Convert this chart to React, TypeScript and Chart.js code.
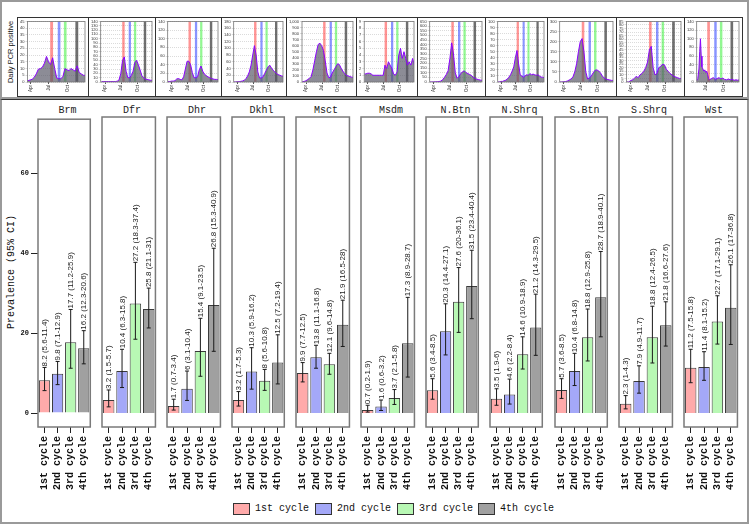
import React, { useEffect, useRef } from "react";
import { Chart, registerables } from "chart.js";
Chart.register(...registerables);

// ---------- bottom panels: prevalence by region and cycle ----------
const REGIONS = ["Brm", "Dfr", "Dhr", "Dkhl", "Msct", "Msdm", "N.Btn", "N.Shrq", "S.Btn", "S.Shrq", "Wst"];
const CYCLES = ["1st cycle", "2nd cycle", "3rd cycle", "4th cycle"];
const CYCLE_COLORS = ["#ffaaaa", "#a4a8f8", "#b8f8b4", "#a0a0a0"];

const EST_C1 = [8.2, 3.2, 1.7, 3.2, 9.9, 0.7, 5.6, 3.5, 5.7, 2.3, 11.2];
const LO_C1 = [5.6, 1.5, 0.7, 1.7, 7.7, 0.2, 3.4, 1.9, 3.6, 1, 7.5];
const HI_C1 = [11.4, 5.7, 3.4, 5.3, 12.5, 1.9, 8.5, 6, 8.5, 4.3, 15.8];
const EST_C2 = [9.8, 10.4, 6, 10.3, 13.8, 1.6, 20.3, 4.6, 10.4, 7.9, 11.4];
const LO_C2 = [7.1, 6.3, 3.1, 5.9, 11.1, 0.6, 14.4, 2.2, 6.8, 4.9, 8.1];
const HI_C2 = [12.9, 15.8, 10.4, 16.2, 16.8, 3.2, 27.1, 8.4, 14.8, 11.7, 15.2];
const EST_C3 = [17.7, 27.2, 15.4, 8, 12.1, 3.7, 27.6, 14.6, 18.8, 18.8, 22.7];
const LO_C3 = [11.2, 18.3, 9.1, 5.6, 9.6, 2.1, 20, 10.9, 12.9, 12.4, 17.1];
const HI_C3 = [25.9, 37.4, 23.5, 10.8, 14.8, 5.8, 36.1, 18.9, 25.8, 26.5, 29.1];
const EST_C4 = [16.2, 25.8, 26.8, 12.5, 21.9, 17.3, 31.5, 21.2, 28.7, 21.8, 26.1];
const LO_C4 = [12.3, 21.1, 15.3, 7.2, 16.5, 8.9, 23.4, 14.3, 18.9, 16.6, 17];
const HI_C4 = [20.6, 31, 40.9, 19.4, 28, 28.7, 40.4, 29.5, 40.1, 27.6, 36.8];

const PREV_Y_TICKS = [0, 20, 40, 60];
const PREV_Y_MIN = -3.5;
const PREV_Y_MAX = 73.5;

// ---------- top panels: daily PCR positive ----------
const DAYS = [10, 20, 30, 40, 50, 60, 70, 80, 90, 100, 110, 120, 130, 140, 150, 160, 170, 180, 190, 200, 210, 220, 230, 240, 250, 260, 270, 280, 290, 300];
const WST_DAYS = [72, 78, 84, 88, 92, 96, 100, 105, 110, 115, 120, 125, 130, 135, 140, 150, 160, 170, 180, 190, 200, 210, 220, 230, 240, 250, 260, 270, 280, 290, 296];

const PCR_BRM = [1, 1, 1.5, 2, 3.5, 6, 9.5, 10, 11, 14, 19, 15, 13, 18, 10, 3, 2.5, 2.5, 4, 10, 9, 8.5, 10, 9, 8, 12, 7, 6, 5, 5];
const PCR_DFR = [1, 1, 1, 1, 1, 1, 1, 1, 1, 2, 5, 20, 50, 58, 25, 10, 10, 15, 25, 45, 50, 40, 28, 15, 10, 7, 6, 5, 4, 4];
const PCR_DHR = [1, 1, 2, 2, 3, 7, 8, 6, 5, 12, 30, 48, 48, 40, 22, 10, 10, 12, 28, 37, 25, 18, 15, 12, 10, 8, 7, 6, 6, 5];
const PCR_DKHL = [0, 0, 1, 1, 2, 3, 5, 10, 18, 30, 50, 80, 108, 80, 30, 12, 12, 15, 25, 35, 45, 50, 42, 35, 30, 25, 22, 20, 18, 16];
const PCR_MSCT = [5, 10, 20, 40, 60, 90, 200, 350, 500, 620, 640, 600, 520, 350, 150, 70, 80, 150, 200, 250, 300, 290, 230, 180, 140, 110, 100, 90, 80, 80];
const PCR_MSDM = [1.2, 1.2, 1.3, 1.3, 1.2, 1, 1, 1, 1, 1, 1, 1, 2.5, 2, 3, 2.5, 2, 1.2, 1, 1.5, 4, 5, 3.5, 4.5, 3.5, 2.5, 3, 2.5, 3.5, 2.5];
const PCR_NBTN = [0, 0, 1, 2, 3, 5, 10, 25, 50, 80, 120, 250, 420, 300, 100, 40, 60, 90, 110, 120, 100, 90, 80, 70, 50, 40, 30, 25, 20, 18];
const PCR_NSHRQ = [0, 0, 1, 1, 2, 3, 5, 8, 12, 18, 25, 40, 52, 30, 12, 10, 8, 10, 12, 11, 14, 12, 13, 12, 11, 12, 10, 8, 8, 7];
const PCR_SBTN = [0, 0, 1, 2, 5, 10, 15, 25, 50, 90, 150, 200, 215, 150, 50, 15, 20, 30, 45, 58, 60, 55, 45, 30, 20, 15, 12, 10, 8, 8];
const PCR_SSHRQ = [0, 0, 2, 3, 5, 8, 6, 10, 12, 15, 20, 28, 45, 50, 20, 10, 12, 20, 22, 25, 24, 18, 15, 12, 10, 8, 7, 6, 5, 5];
const PCR_WST = [3, 8, 30, 70, 100, 60, 35, 30, 25, 28, 22, 25, 18, 8, 5, 8, 10, 6, 8, 10, 7, 9, 6, 5, 7, 5, 6, 4, 5, 4, 5];

const PCR_SERIES = [PCR_BRM, PCR_DFR, PCR_DHR, PCR_DKHL, PCR_MSCT, PCR_MSDM, PCR_NBTN, PCR_NSHRQ, PCR_SBTN, PCR_SSHRQ, PCR_WST];
const PCR_Y_MAX = [45, 140, 140, 180, 1000, 9, 650, 100, 300, 85, 140];
const PCR_Y_STEP = [5, 10, 20, 20, 100, 1, 50, 10, 50, 5, 20];
const PCR_X_MIN = [17, 5, 8, 8, 8, 10, 8, 10, 8, 8, 72];
const PCR_X_MAX = [298, 298, 298, 298, 298, 298, 298, 298, 298, 298, 296];

const MONTH_DAYS = [31, 122, 214];
const MONTH_LABELS = ["Apr", "Jul", "Oct"];

const BAND_START = [128, 165, 195, 251];
const BAND_END = [142, 178, 208, 265];
const BAND_COLORS = ["rgba(255,40,40,0.5)", "rgba(40,60,255,0.55)", "rgba(40,240,40,0.5)", "rgba(50,50,50,0.7)"];

// ---------- layout ----------
const TOP_EDGES = [17, 88, 155, 221, 286, 356, 417, 485, 547, 616, 684, 742];
const BOT_LEFT = [38, 102, 167, 232, 296, 361, 426, 490, 555, 619, 684];
const BOT_RIGHT = [97, 162, 227, 291, 356, 421, 485, 549, 614, 679, 744];
const LEGEND_BOX_X = [233, 315, 397, 478];

const MONO = "'Liberation Mono', 'Courier New', monospace";
const SANS = "'Liberation Sans', Arial, sans-serif";

function PcrPanel({ idx }: { idx: number }) {
  const ref = useRef<HTMLCanvasElement>(null);
  const left = TOP_EDGES[idx] + 1;
  const width = TOP_EDGES[idx + 1] - TOP_EDGES[idx] - 2;
  const height = 78;
  useEffect(() => {
    const days = idx === 10 ? WST_DAYS : DAYS;
    const vals = PCR_SERIES[idx];
    const xmin = PCR_X_MIN[idx];
    const xmax = PCR_X_MAX[idx];
    const bandPlugin = {
      id: "bands",
      beforeDatasetsDraw(chart: any) {
        const { ctx, chartArea: a, scales } = chart;
        ctx.save();
        for (let b = 0; b < BAND_START.length; b++) {
          const x0 = scales.x.getPixelForValue(BAND_START[b]);
          const x1 = scales.x.getPixelForValue(BAND_END[b]);
          ctx.fillStyle = BAND_COLORS[b];
          ctx.fillRect(x0, a.top, x1 - x0, a.bottom - a.top);
        }
        ctx.restore();
      },
      afterDraw(chart: any) {
        const { ctx, chartArea: a } = chart;
        ctx.save();
        ctx.strokeStyle = "#777";
        ctx.lineWidth = 0.8;
        ctx.strokeRect(a.left, a.top, a.right - a.left, a.bottom - a.top);
        ctx.restore();
      },
    };
    const chart = new Chart(ref.current!, {
      type: "line",
      data: {
        datasets: [
          {
            data: days.map((d, k) => ({ x: d, y: vals[k] })),
            borderColor: "#8c00ff",
            borderWidth: 1,
            pointRadius: 0,
            fill: "origin",
            backgroundColor: "rgba(85,85,100,0.68)",
            tension: 0,
          },
        ],
      },
      options: {
        animation: false,
        responsive: false,
        maintainAspectRatio: false,
        layout: { padding: { top: 2, right: 2, left: 1, bottom: 0 } },
        plugins: { legend: { display: false }, tooltip: { enabled: false } },
        scales: {
          x: {
            type: "linear",
            min: xmin,
            max: xmax,
            afterBuildTicks: (s: any) => {
              s.ticks = MONTH_DAYS.filter((d) => d >= xmin && d <= xmax).map((v) => ({ value: v }));
            },
            afterFit: (s: any) => {
              s.height = 14;
            },
            ticks: {
              callback: (v: any) => MONTH_LABELS[MONTH_DAYS.indexOf(Number(v))],
              minRotation: 90,
              maxRotation: 90,
              autoSkip: false,
              padding: 1,
              color: "#333",
              font: { family: SANS, size: 4.5 },
            },
            grid: { display: true, drawOnChartArea: false, tickLength: 2, color: "#555" },
            border: { display: false },
          },
          y: {
            min: 0,
            max: PCR_Y_MAX[idx],
            ticks: {
              stepSize: PCR_Y_STEP[idx],
              maxTicksLimit: 60,
              autoSkip: false,
              padding: 1,
              color: "#333",
              font: { family: SANS, size: 4 },
            },
            grid: { color: "#c4c4c4", tickLength: 2, lineWidth: 0.6 },
            border: { display: false, dash: [1, 1] },
          },
        },
      } as any,
      plugins: [bandPlugin],
    });
    return () => chart.destroy();
  }, [idx]);
  return (
    <canvas
      ref={ref}
      width={width}
      height={height}
      style={{ position: "absolute", left, top: 18, width, height }}
    />
  );
}

function PrevPanel({ idx }: { idx: number }) {
  const ref = useRef<HTMLCanvasElement>(null);
  const first = idx === 0;
  const left = first ? 0 : BOT_LEFT[idx] - 2;
  const width = BOT_RIGHT[idx] + 2 - left;
  const top = 113;
  const height = 385;
  useEffect(() => {
    const est = [EST_C1[idx], EST_C2[idx], EST_C3[idx], EST_C4[idx]];
    const lo = [LO_C1[idx], LO_C2[idx], LO_C3[idx], LO_C4[idx]];
    const hi = [HI_C1[idx], HI_C2[idx], HI_C3[idx], HI_C4[idx]];
    const errPlugin = {
      id: "errbars",
      afterDatasetsDraw(chart: any) {
        const { ctx, chartArea: a, scales } = chart;
        const meta = chart.getDatasetMeta(0);
        ctx.save();
        meta.data.forEach((bar: any, j: number) => {
          const x = bar.x;
          const yl = scales.y.getPixelForValue(lo[j]);
          const yh = scales.y.getPixelForValue(hi[j]);
          ctx.strokeStyle = "#1a1a1a";
          ctx.lineWidth = 1;
          ctx.beginPath();
          ctx.moveTo(x, yl);
          ctx.lineTo(x, yh);
          ctx.moveTo(x - 2, yl);
          ctx.lineTo(x + 2, yl);
          ctx.moveTo(x - 2, yh);
          ctx.lineTo(x + 2, yh);
          ctx.stroke();
          ctx.save();
          ctx.translate(x + 0.5, yh - 1);
          ctx.rotate(-Math.PI / 2);
          ctx.textAlign = "left";
          ctx.textBaseline = "middle";
          ctx.font = `8px ${SANS}`;
          ctx.fillStyle = "#222";
          ctx.fillText(`${est[j]} (${lo[j]}-${hi[j]})`, 0, 0);
          ctx.restore();
        });
        ctx.strokeStyle = "#7a7a7a";
        ctx.lineWidth = 1.5;
        ctx.strokeRect(a.left, a.top, a.right - a.left, a.bottom - a.top);
        ctx.restore();
      },
    };
    const chart = new Chart(ref.current!, {
      type: "bar",
      data: {
        labels: CYCLES,
        datasets: [
          {
            data: est,
            backgroundColor: CYCLE_COLORS,
            borderColor: "#3a3a3a",
            borderWidth: 1,
            barPercentage: 0.86,
            categoryPercentage: 1,
          },
        ],
      },
      options: {
        animation: false,
        responsive: false,
        maintainAspectRatio: false,
        layout: { padding: { left: first ? 0 : 2, right: 2, top: 4, bottom: 0 } },
        plugins: { legend: { display: false }, tooltip: { enabled: false } },
        scales: {
          x: {
            afterFit: (s: any) => {
              s.height = 71;
            },
            ticks: {
              minRotation: 90,
              maxRotation: 90,
              autoSkip: false,
              padding: 3,
              color: "#111",
              font: { family: MONO, size: 10, weight: "bold" },
            },
            grid: { display: true, drawOnChartArea: false, offset: false, tickLength: 6, color: "#222" },
            border: { display: false },
          },
          y: {
            display: first,
            min: PREV_Y_MIN,
            max: PREV_Y_MAX,
            afterBuildTicks: (s: any) => {
              s.ticks = PREV_Y_TICKS.map((v) => ({ value: v }));
            },
            afterFit: (s: any) => {
              s.width = first ? 38 : 0;
            },
            ticks: {
              padding: 2,
              color: "#111",
              font: { family: MONO, size: 7, weight: "bold" },
            },
            grid: { drawOnChartArea: false, tickLength: 7, color: "#222" },
            border: { display: false },
          },
        },
      } as any,
      plugins: [errPlugin],
    });
    return () => chart.destroy();
  }, [idx]);
  return (
    <canvas ref={ref} width={width} height={height} style={{ position: "absolute", left, top, width, height }} />
  );
}

export default function App() {
  return (
    <div
      style={{
        position: "absolute",
        left: 0,
        top: 0,
        width: 750,
        height: 525,
        background: "#fff",
        overflow: "hidden",
        fontFamily: SANS,
      }}
    >
      {/* top strip frame */}
      <div
        style={{
          position: "absolute",
          left: 0,
          top: 0,
          width: 745,
          height: 95,
          border: "2px solid #9a9a9a",
        }}
      />
      <div
        style={{
          position: "absolute",
          left: 10,
          top: 52,
          transform: "translate(-50%, -50%) rotate(-90deg)",
          whiteSpace: "nowrap",
          fontSize: 7.5,
          color: "#111",
          fontFamily: SANS,
        }}
      >
        Daily PCR positive
      </div>
      {TOP_EDGES.slice(0, -1).map((l, i) => (
        <div
          key={"tb" + i}
          style={{
            position: "absolute",
            left: l,
            top: 17,
            width: TOP_EDGES[i + 1] - l + 1,
            height: 80,
            border: "1px solid #333",
            boxSizing: "border-box",
          }}
        />
      ))}
      {REGIONS.map((_, i) => (
        <PcrPanel key={"p" + i} idx={i} />
      ))}

      {/* bottom frame */}
      <div
        style={{
          position: "absolute",
          left: 0,
          top: 99,
          width: 745,
          height: 422,
          borderLeft: "2px solid #9a9a9a",
          borderRight: "2px solid #9a9a9a",
          borderBottom: "2px solid #9a9a9a",
          borderTop: "1px solid #333",
        }}
      />
      {REGIONS.map((r, i) => (
        <div
          key={"t" + i}
          style={{
            position: "absolute",
            left: BOT_LEFT[i],
            width: BOT_RIGHT[i] - BOT_LEFT[i],
            top: 105,
            textAlign: "center",
            fontFamily: MONO,
            fontSize: 10,
            lineHeight: "12px",
            color: "#222",
          }}
        >
          {r}
        </div>
      ))}
      <div
        style={{
          position: "absolute",
          left: 11,
          top: 272,
          transform: "translate(-50%, -50%) rotate(-90deg)",
          whiteSpace: "nowrap",
          fontFamily: MONO,
          fontSize: 10,
          color: "#111",
        }}
      >
        Prevalence (95% CI)
      </div>
      {REGIONS.map((_, i) => (
        <PrevPanel key={"b" + i} idx={i} />
      ))}

      {/* legend */}
      {CYCLES.map((c, i) => (
        <React.Fragment key={"l" + i}>
          <div
            style={{
              position: "absolute",
              left: LEGEND_BOX_X[i],
              top: 503,
              width: 15,
              height: 10,
              background: CYCLE_COLORS[i],
              border: "1px solid #333",
            }}
          />
          <div
            style={{
              position: "absolute",
              left: LEGEND_BOX_X[i] + 22,
              top: 502,
              fontFamily: MONO,
              fontSize: 10,
              lineHeight: "13px",
              color: "#111",
              whiteSpace: "nowrap",
            }}
          >
            {c}
          </div>
        </React.Fragment>
      ))}
    </div>
  );
}
